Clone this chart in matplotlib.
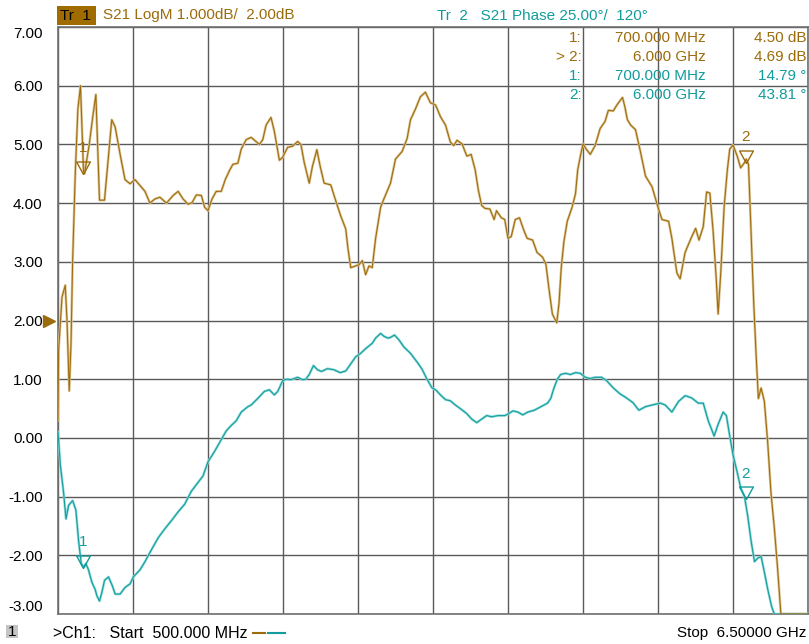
import numpy as np
import matplotlib.pyplot as plt
from matplotlib.lines import Line2D
from matplotlib.patches import Rectangle

W, H = 809, 644

# Tr 1: S21 LogM, frequency in GHz, value in dB
freq_mag = [0.5, 0.505, 0.532, 0.558, 0.572, 0.59, 0.604, 0.617, 0.638, 0.659,
            0.68, 0.704, 0.712, 0.75, 0.78, 0.803, 0.832, 0.872, 0.93, 0.957,
            0.997, 1.036, 1.076, 1.116, 1.156, 1.196, 1.235, 1.275, 1.315, 1.368,
            1.421, 1.461, 1.501, 1.541, 1.573, 1.607, 1.647, 1.673, 1.7, 1.732,
            1.766, 1.806, 1.838, 1.873, 1.899, 1.939, 1.966, 2.005, 2.045, 2.111,
            2.138, 2.165, 2.204, 2.231, 2.271, 2.297, 2.337, 2.377, 2.417, 2.443,
            2.47, 2.51, 2.536, 2.571, 2.597, 2.629, 2.682, 2.722, 2.762, 2.802,
            2.82, 2.842, 2.881, 2.908, 2.935, 2.961, 2.988, 3.014, 3.041, 3.081,
            3.107, 3.16, 3.2, 3.253, 3.293, 3.32, 3.359, 3.399, 3.439, 3.479,
            3.521, 3.56, 3.6, 3.639, 3.666, 3.692, 3.732, 3.771, 3.805, 3.837,
            3.863, 3.889, 3.916, 3.955, 3.989, 4.008, 4.047, 4.074, 4.1, 4.126,
            4.158, 4.192, 4.226, 4.253, 4.297, 4.332, 4.376, 4.403, 4.429, 4.455,
            4.49, 4.508, 4.526, 4.547, 4.574, 4.613, 4.64, 4.658, 4.679, 4.7,
            4.726, 4.758, 4.797, 4.837, 4.876, 4.903, 4.942, 4.974, 5.016, 5.034,
            5.055, 5.081, 5.12, 5.16, 5.2, 5.252, 5.3, 5.332, 5.385, 5.411,
            5.451, 5.477, 5.517, 5.564, 5.601, 5.628, 5.662, 5.689, 5.715, 5.741,
            5.763, 5.781, 5.802, 5.829, 5.855, 5.874, 5.9, 5.934, 5.961, 5.992,
            6.006, 6.024, 6.045, 6.066, 6.085, 6.103, 6.125, 6.151, 6.177, 6.204,
            6.23, 6.257, 6.283, 6.35, 6.5]
mag_db = [0.3, 1.5, 2.4, 2.6, 2.0, 0.8, 1.6, 3.0, 4.5, 5.6,
          6.0, 4.55, 4.5, 5.0, 5.5, 5.85, 4.05, 4.05, 5.42, 5.3,
          4.83, 4.4, 4.33, 4.4, 4.3, 4.2, 4.0, 4.07, 4.1, 4.0,
          4.13, 4.2, 4.07, 3.98, 4.01, 4.14, 4.13, 3.93, 3.87, 4.07,
          4.2, 4.2, 4.4, 4.56, 4.66, 4.68, 4.92, 5.08, 5.12, 5.0,
          5.08, 5.33, 5.46, 5.22, 4.73, 4.78, 4.95, 4.97, 5.05, 5.0,
          4.69, 4.34, 4.63, 4.91, 4.63, 4.34, 4.31, 4.04, 3.78, 3.56,
          3.22, 2.9, 2.93, 2.95, 3.02, 2.78, 2.93, 2.9, 3.4, 3.93,
          4.07, 4.34, 4.75, 4.88, 5.1, 5.42, 5.6, 5.81, 5.89, 5.71,
          5.67, 5.47, 5.33, 5.04, 4.98, 5.07, 5.01, 4.8, 4.83, 4.57,
          4.22, 3.96, 3.91, 3.9, 3.72, 3.87, 3.75, 3.72, 3.4, 3.43,
          3.72, 3.75, 3.54, 3.4, 3.37, 3.16, 3.08, 2.96, 2.52, 2.11,
          1.96, 2.29, 2.9, 3.34, 3.69, 3.93, 4.16, 4.57, 4.8, 5.01,
          4.92, 4.83, 4.98, 5.27, 5.39, 5.58, 5.57, 5.68, 5.8, 5.65,
          5.42, 5.33, 5.25, 4.87, 4.46, 4.28, 3.93, 3.72, 3.69, 3.4,
          2.81, 2.71, 3.16, 3.4, 3.57, 3.37, 3.6, 4.19, 4.17, 3.52,
          2.81, 2.11, 2.81, 3.93, 4.57, 4.92, 4.99, 4.8, 4.6, 4.69,
          4.75, 4.66, 3.46, 2.29, 1.41, 0.67, 0.85, 0.62, -0.06, -0.94,
          -1.52, -2.23, -3.0, -4.5, -6.0]

# Tr 2: S21 Phase, frequency in GHz, value in degrees
freq_phase = [0.5, 0.519, 0.545, 0.564, 0.585, 0.617, 0.643, 0.665, 0.686, 0.704,
              0.723, 0.744, 0.771, 0.797, 0.811, 0.832, 0.85, 0.872, 0.904, 0.935,
              0.957, 0.997, 1.036, 1.076, 1.103, 1.156, 1.196, 1.249, 1.302, 1.355,
              1.408, 1.461, 1.514, 1.567, 1.62, 1.66, 1.7, 1.753, 1.806, 1.846,
              1.886, 1.926, 1.966, 2.019, 2.045, 2.098, 2.151, 2.191, 2.231, 2.258,
              2.297, 2.324, 2.364, 2.417, 2.457, 2.483, 2.51, 2.544, 2.576, 2.608,
              2.656, 2.709, 2.757, 2.802, 2.842, 2.881, 2.921, 2.961, 3.014, 3.041,
              3.081, 3.107, 3.139, 3.16, 3.192, 3.227, 3.266, 3.32, 3.373, 3.412,
              3.452, 3.492, 3.521, 3.56, 3.6, 3.639, 3.679, 3.718, 3.771, 3.81,
              3.85, 3.889, 3.929, 3.968, 4.021, 4.074, 4.105, 4.139, 4.179, 4.218,
              4.258, 4.311, 4.363, 4.416, 4.442, 4.468, 4.495, 4.521, 4.561, 4.6,
              4.64, 4.679, 4.718, 4.758, 4.797, 4.85, 4.89, 4.942, 4.995, 5.04,
              5.1, 5.147, 5.2, 5.252, 5.319, 5.358, 5.411, 5.464, 5.517, 5.57,
              5.622, 5.662, 5.702, 5.749, 5.781, 5.821, 5.847, 5.874, 5.9, 5.934,
              5.961, 5.992, 6.019, 6.045, 6.072, 6.098, 6.125, 6.151, 6.178, 6.209,
              6.23, 6.3, 6.5]
phase_deg = [72.5, 58.3, 46.5, 35.5, 41.3, 43.3, 39.3, 26.0, 16.5, 15.0,
             16.5, 13.8, 8.5, 5.5, 2.8, 0.5, 4.0, 9.3, 10.8, 7.0,
             3.5, 3.5, 6.3, 7.8, 10.8, 13.8, 17.3, 22.5, 27.5, 31.3,
             34.8, 38.5, 41.8, 47.3, 51.0, 53.8, 59.8, 64.3, 69.3, 73.0,
             75.3, 77.3, 81.0, 83.3, 84.0, 86.8, 89.8, 90.5, 88.3, 89.8,
             94.3, 95.0, 94.8, 95.8, 94.8, 95.0, 97.0, 100.8, 99.0, 98.3,
             99.5, 99.0, 97.8, 98.5, 101.5, 104.5, 106.0, 108.0, 110.3, 112.5,
             114.5, 113.3, 112.5, 112.8, 113.8, 111.8, 108.8, 106.0, 102.3, 99.3,
             95.0, 91.3, 90.5, 88.3, 86.3, 85.8, 84.0, 82.5, 80.3, 78.0,
             76.5, 78.0, 79.5, 79.0, 79.5, 79.5, 80.3, 81.5, 81.0, 79.8,
             81.0, 81.8, 83.3, 84.8, 86.8, 91.3, 95.0, 97.0, 97.5, 97.0,
             97.8, 97.5, 95.8, 95.3, 95.8, 95.8, 94.3, 91.3, 88.8, 87.3,
             85.0, 81.8, 83.3, 84.0, 84.8, 84.0, 81.0, 85.5, 88.0, 87.0,
             84.8, 84.8, 77.3, 70.8, 75.8, 81.0, 79.5, 70.8, 62.8, 55.3,
             48.8, 45.0, 36.3, 26.0, 17.3, 18.8, 19.5, 12.8, 5.5, -1.8,
             -5.0, -20.0, -60.0]

marker_freq = [0.7, 6.0]
marker_mag = [4.50, 4.69]
marker_phase = [14.79, 43.81]

# display format: both traces share the grid, ref line at 2.00
ref_pos = 2.0
mag_ref, mag_div = 2.0, 1.0
ph_ref, ph_div = 120.0, 25.0
start, stop = 0.5, 6.5
y_lo, y_hi = -3, 7

BROWN = '#9c6c0c'
BROWN_LT = '#dcc290'
CYAN = '#129c9c'
CYAN_LT = '#8cd8d8'
GRID = '#5a5a5a'
FS = 11


def to_grid_mag(v):
    return ref_pos + (np.asarray(v) - mag_ref) / mag_div


def to_grid_phase(v):
    return ref_pos + (np.asarray(v) - ph_ref) / ph_div


def px(x, y):
    return x / W, 1 - y / H


plt.rcParams['font.family'] = ['Liberation Sans', 'DejaVu Sans']

fig = plt.figure(figsize=(W / 100, H / 100), dpi=100)
ax = fig.add_axes([58 / W, 30 / H, 750 / W, 587 / H])

ax.set_xlim(start, stop)
ax.set_ylim(y_lo, y_hi)
ax.set_xticks(np.linspace(start, stop, 11))
ax.set_yticks(np.arange(y_lo, y_hi + 1))
ax.grid(True, color=GRID, lw=1.0)
ax.tick_params(length=0, labelbottom=False, labelsize=FS, pad=11)
ax.set_yticklabels(['%.2f' % v for v in np.arange(y_lo, y_hi + 1)])
labs = ax.get_yticklabels()
labs[0].set_verticalalignment('bottom')
labs[-1].set_verticalalignment('top')
for s in ax.spines.values():
    s.set_color('#707070')
    s.set_linewidth(1.2)

# traces: light memory look underneath, data on top
y1 = np.clip(to_grid_mag(mag_db), y_lo, y_hi)
y2 = np.clip(to_grid_phase(phase_deg), y_lo, y_hi)
ax.plot(freq_phase, y2, color=CYAN_LT, lw=1.8, zorder=3)
ax.plot(freq_phase, y2, color=CYAN, lw=0.75, zorder=4)
ax.plot(freq_mag, y1, color=BROWN_LT, lw=1.8, zorder=3)
ax.plot(freq_mag, y1, color=BROWN, lw=0.75, zorder=4)

# markers: outlined triangles with the tip on the value
tri = [(0, 0), (-0.55, 1), (0.55, 1), (0, 0)]
for i, f in enumerate(marker_freq):
    for yv, col in [(to_grid_mag(marker_mag[i]), BROWN),
                    (to_grid_phase(marker_phase[i]), CYAN)]:
        ax.plot([f], [yv], marker=tri, ms=18, mfc='none', mec=col, mew=1.0,
                zorder=5, clip_on=False)
        ax.annotate(str(i + 1), (f, yv), xytext=(0, 18.5), textcoords='offset points',
                    ha='center', va='center', color=col, fontsize=FS, zorder=5)

# reference position arrow
ax.plot([-0.012], [ref_pos], marker='>', ms=8, color=BROWN,
        transform=ax.get_yaxis_transform(), clip_on=False)

# header
fig.patches.append(Rectangle(px(57, 25), 39 / W, 19 / H, transform=fig.transFigure,
                             facecolor='#a06c00', edgecolor='none'))
fig.text(*px(60, 15.5), 'Tr  1', color='black', fontsize=FS, va='center')
fig.text(*px(103, 15.5), 'S21 LogM 1.000dB/  2.00dB', color=BROWN, fontsize=FS, va='center')
fig.text(*px(437, 15.5), 'Tr  2   S21 Phase 25.00\u00b0/  120\u00b0', color=CYAN,
         fontsize=FS, va='center')

# marker readout table
rows = [('1:', '700.000 MHz', '%.2f dB' % marker_mag[0], BROWN),
        ('> 2:', '6.000 GHz', '%.2f dB' % marker_mag[1], BROWN),
        ('1:', '700.000 MHz', '%.2f \u00b0' % marker_phase[0], CYAN),
        ('2:', '6.000 GHz', '%.2f \u00b0' % marker_phase[1], CYAN)]
for k, (a, b, c, col) in enumerate(rows):
    yy = 38 + 19 * k
    fig.text(*px(582, yy), a, color=col, fontsize=FS, ha='right', va='center', zorder=10)
    fig.text(*px(706, yy), b, color=col, fontsize=FS, ha='right', va='center', zorder=10)
    fig.text(*px(806, yy), c, color=col, fontsize=FS, ha='right', va='center', zorder=10)

# footer
fig.patches.append(Rectangle(px(6, 638), 12 / W, 13 / H, transform=fig.transFigure,
                             facecolor='#c4c4c4', edgecolor='none'))
fig.text(*px(12, 632), '1', fontsize=FS, ha='center', va='center')
fig.text(*px(53, 633), '>Ch1:   Start  500.000 MHz', fontsize=FS + 0.5, va='center')
fig.lines.append(Line2D([253 / W, 265 / W], [1 - 633 / H] * 2, color=BROWN, lw=1.5,
                        transform=fig.transFigure))
fig.lines.append(Line2D([268 / W, 285 / W], [1 - 633 / H] * 2, color=CYAN, lw=1.5,
                        transform=fig.transFigure))
fig.text(*px(806, 633), 'Stop  6.50000 GHz', fontsize=FS, ha='right', va='center')

fig.savefig('out.png', dpi=100, facecolor='white')
